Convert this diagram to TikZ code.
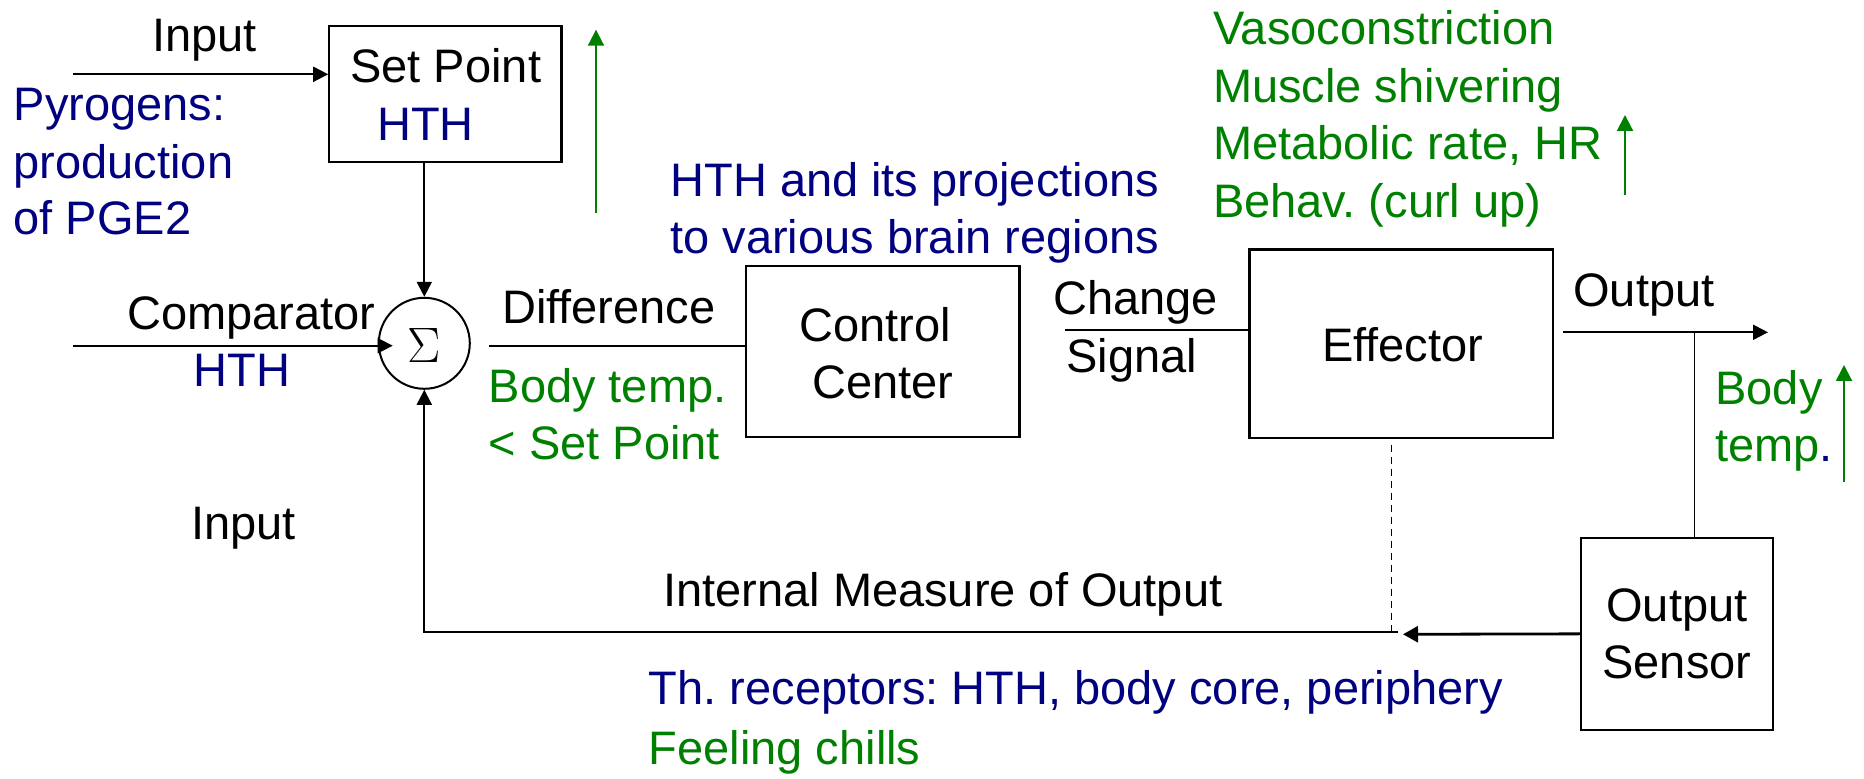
\documentclass[tikz,border=0pt]{standalone}
\usepackage{fontspec}
\setmainfont{Liberation Sans}
\usetikzlibrary{arrows.meta}
\definecolor{tgreen}{RGB}{0,128,0}
\definecolor{tblue}{RGB}{0,0,128}
\frenchspacing
\begin{document}
\begin{tikzpicture}[x=0.5pt,y=-0.5pt,
  lbl/.style={anchor=base west, inner sep=0pt, font=\fontsize{23.5}{28.75}\selectfont},
  blk/.style={draw, line width=1.1pt, inner sep=0pt},
  wire/.style={line width=1pt},
  arr/.style={wire, -{Triangle[length=7.5pt,width=7.5pt]}},
  uparr/.style={tgreen, line width=1pt, -{Triangle[length=8pt,width=8pt]}}]
% canvas
\fill[white] (0,0) rectangle (1864,779);
\useasboundingbox (0,0) rectangle (1864,779);

% blocks
\node[blk, minimum width=116.1pt, minimum height=67.85pt] (sp) at (445.4,93.85) {};
\node[blk, circle, line width=1pt, minimum size=45.5pt] (sum) at (424.3,343.3) {};
\node[blk, minimum width=136.7pt, minimum height=85.65pt] (cc) at (882.7,351.35) {};
\node[blk, minimum width=151.9pt, minimum height=94.4pt] (eff) at (1401.4,343.9) {};
\node[blk, minimum width=96pt, minimum height=96.15pt] (sens) at (1677,633.85) {};

% block texts
\node[lbl] (tsp) at (350,82.7) {Set Point};
\node[lbl, text=tblue] (tsph) at (376.7,140.7) {HTH};
\node[anchor=base, inner sep=0pt, font=\fontsize{23.5}{28.75}\selectfont] (tsig) at (423.7,362.7) {$\Sigma$};
\node[lbl] (tcc1) at (799.3,341.7) {Control};
\node[lbl] (tcc2) at (811.7,398.3) {Center};
\node[lbl] (teff) at (1321.7,361.7) {Effector};
\node[lbl] (tse1) at (1606,621.7) {Output};
\node[lbl] (tse2) at (1602,678.3) {Sensor};

% free ends of connectors
\coordinate (inA) at (73.3,74.3);
\coordinate (cmpA) at (73.3,345.7);
\coordinate (cmpB) at (392.7,345.7);
\coordinate (difA) at (489.3,346);
\coordinate (chgA) at (1065,330);
\coordinate (outA) at (1562.7,332.3);
\coordinate (outB) at (1768,332.3);
\coordinate (tap) at (1694.5,332.3);
\coordinate (fbA) at (1403,634.3);
\coordinate (fbB) at (1398,632.3);
\coordinate (dsA) at (1391.6,445);

% connectors
\draw[arr] (inA) -- (inA -| sp.west);
\draw[arr] (sp.south -| sum.north) -- (sum.north);
\draw[arr] (cmpA) -- (cmpB);
\draw[wire] (difA) -- (difA -| cc.west);
\draw[wire] (chgA) -- (chgA -| eff.west);
\draw[arr] (outA) -- (outB);
\draw[wire, line width=0.8pt] (tap) -- (tap |- sens.north);
\draw[wire, line width=1.4pt, -{Triangle[length=7.5pt,width=8pt]}] (sens.west) -- (fbA);
\draw[arr] (fbB) -| (sum.south);
\draw[line width=0.7pt, dash pattern=on 3.5pt off 2.5pt] (dsA) -- (dsA |- fbB);

% increase markers
\coordinate (g1a) at (596,213.5);
\coordinate (g1b) at (596,29.7);
\coordinate (g2a) at (1625,195);
\coordinate (g2b) at (1625,115);
\coordinate (g3a) at (1844,482);
\coordinate (g3b) at (1844,365);
\draw[uparr] (g1a) -- (g1b);
\draw[uparr] (g2a) -- (g2b);
\draw[uparr] (g3a) -- (g3b);

% signal labels
\node[lbl] (lin1) at (151.7,51.7) {Input};
\node[lbl, text=tblue] (lpy1) at (13.3,120.7) {Pyrogens:};
\node[lbl, text=tblue] (lpy2) at (13.3,178.3) {production};
\node[lbl, text=tblue] (lpy3) at (13.3,235) {of PGE2};
\node[lbl] (lcmp) at (126.7,330) {Comparator};
\node[lbl, text=tblue] (lcmph) at (193.3,386.7) {HTH};
\node[lbl] (lin2) at (190.7,540) {Input};
\node[lbl] (ldif) at (501.7,324) {Difference};
\node[lbl, text=tgreen] (lbt1) at (488.3,402.3) {Body temp.};
\node[lbl, text=tgreen] (lbt2) at (488.3,459.3) {< Set Point};
\node[lbl, text=tblue] (lhth1) at (670,196.7) {HTH and its projections};
\node[lbl, text=tblue] (lhth2) at (670,253.3) {to various brain regions};
\node[lbl] (lchg) at (1052.7,315) {Change};
\node[lbl] (lsig) at (1066,372.7) {Signal};
\node[lbl, text=tgreen] (lv1) at (1212.7,45) {Vasoconstriction};
\node[lbl, text=tgreen] (lv2) at (1212.7,102.5) {Muscle shivering};
\node[lbl, text=tgreen] (lv3) at (1212.7,160) {Metabolic rate, HR};
\node[lbl, text=tgreen] (lv4) at (1212.7,217.5) {Behav. (curl up)};
\node[lbl] (lout) at (1572.9,306.7) {Output};
\node[lbl, text=tgreen] (lbd1) at (1715,405) {Body};
\node[lbl, text=tgreen] (lbd2) at (1715,461.7) {temp\textcolor{tblue}{.}};
\node[lbl] (lint) at (662.9,606.7) {Internal Measure of Output};
\node[lbl, text=tblue] (lrec) at (648.4,705) {Th. receptors: HTH, body core, periphery};
\node[lbl, text=tgreen] (lchl) at (648.4,765) {Feeling chills};
\end{tikzpicture}
\end{document}
